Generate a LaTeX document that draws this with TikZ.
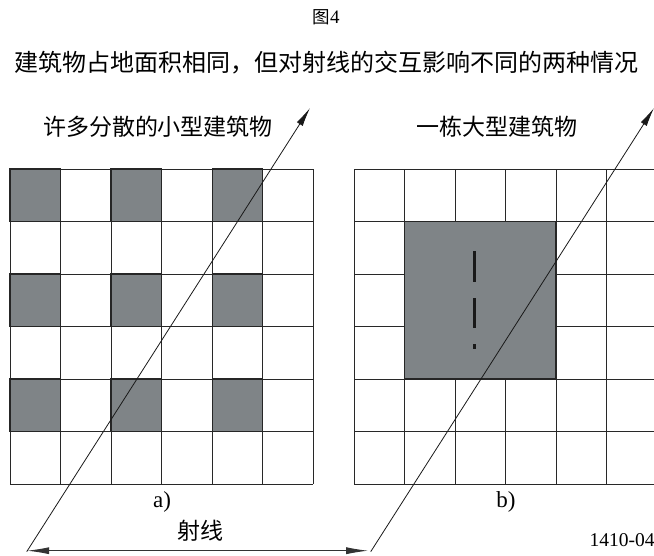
\documentclass[tikz,border=0pt]{standalone}
\usepackage{fontspec}
\setmainfont{Liberation Serif}
\newfontfamily\cjk{Noto Sans CJK SC}
\usetikzlibrary{arrows.meta,calc}
\definecolor{bldg}{RGB}{127,132,135}
\definecolor{gridc}{RGB}{40,40,40}
\begin{document}
\begin{tikzpicture}[x=1pt,y=-1pt,
  gridline/.style={draw=gridc,line width=0.9pt},
  building/.style={fill=bldg,draw=black!85,line width=1.4pt},
  ray/.style={draw=black!90,line width=0.8pt,-{Latex[length=19pt,width=7pt]}},
  spanarrow/.style={draw=black!80,line width=0.9pt,{Latex[length=22pt,width=7pt]}-{Latex[length=22pt,width=7pt]}},
  cjktext/.style={inner sep=0pt,font=\cjk\fontsize{23}{27}\selectfont},
  serif/.style={inner sep=0pt}]
\useasboundingbox (0,0) rectangle (654,555);
\clip (0,0) rectangle (654,555);
% titles
\node[serif] (fig) at (326,17) {{\cjk\fontsize{17.5}{20}\selectfont 图}\fontsize{19}{20}\selectfont 4};
\node[inner sep=0pt,font=\cjk\fontsize{24}{28}\selectfont] (title) at (327,63) {建筑物占地面积相同，但对射线的交互影响不同的两种情况};
\node[cjktext] (lefttitle) at (158,127) {许多分散的小型建筑物};
\node[cjktext] (righttitle) at (497,127) {一栋大型建筑物};
% left grid: small buildings
\foreach \i in {0,2,4}{
  \foreach \j in {0,2,4}{
    \fill[bldg] ({10+50.55*\i},{169+52.5*\j}) rectangle ({10+50.55*(\i+1)},{169+52.5*(\j+1)});
  }
}
\foreach \i in {0,...,6}{
  \draw[gridline] ({10+50.55*\i},169) -- ({10+50.55*\i},484);
  \draw[gridline] (10,{169+52.5*\i}) -- (313.3,{169+52.5*\i});
}
\foreach \i in {0,2,4}{
  \foreach \j in {0,2,4}{
    \draw[building,fill=none] ({10+50.55*\i},{169+52.5*\j}) rectangle ({10+50.55*(\i+1)},{169+52.5*(\j+1)});
  }
}
% right grid: one large building
\foreach \i in {0,...,6}{
  \draw[gridline] ({354+50.5*\i},169) -- ({354+50.5*\i},484);
  \draw[gridline] (354,{169+52.5*\i}) -- (657,{169+52.5*\i});
}
\draw[building] (404.5,221.5) rectangle (555.5,379);
\draw[line width=3pt,black!90,dash pattern=on 31pt off 16pt on 30pt off 16pt on 6pt off 20pt] (474,251) -- (474,349);
% labels
\node[serif,font=\fontsize{23}{25}\selectfont] (la) at (162,502) {a)};
\node[serif,font=\fontsize{23}{25}\selectfont] (lb) at (506,502) {b)};
\node[cjktext] (raylabel) at (200,531) {射线};
\node[serif,font=\fontsize{19.5}{22}\selectfont] (code) at (622,540) {1410-04};
% rays
\coordinate (r1s) at (26.7,551.7);
\coordinate (r1e) at (310,108);
\coordinate (r2s) at (370.7,551.7);
\coordinate (r2e) at (654,108);
\draw[ray] (r1s) -- (r1e);
\draw[ray] (r2s) -- (r2e);
\coordinate (h1) at ($(r1s)+(0.5,-1)$);
\coordinate (h2) at ($(r2s)+(-2.5,-1)$);
\draw[spanarrow] (h1) -- (h2);
\end{tikzpicture}
\end{document}
